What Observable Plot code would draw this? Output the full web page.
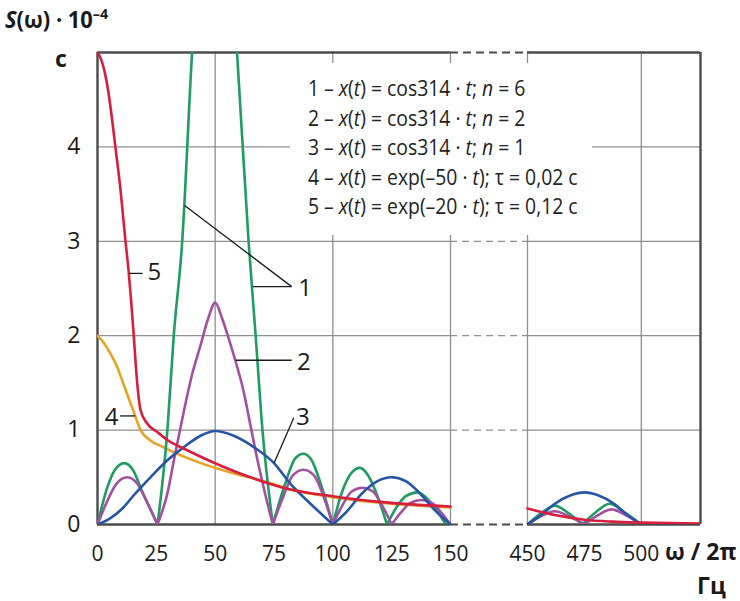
<!DOCTYPE html>
<html>
<head>
<meta charset="utf-8">
<script src="https://cdn.jsdelivr.net/npm/d3@7"></script>
<script src="https://cdn.jsdelivr.net/npm/@observablehq/plot@0.6"></script>
<style>
  body { margin: 0; background: #fff; }
  #wrap { position: relative; width: 740px; height: 601px; overflow: hidden;
          font-family: "Open Sans", "Liberation Sans", sans-serif; color: #1a1a1a; }
  #chart { position: absolute; left: 0; top: 0; }
  .lab { position: absolute; font-weight: bold; font-size: 23px; white-space: nowrap; line-height: 1; transform-origin: 0 0; }
  .lab sup { font-size: 15px; vertical-align: 9px; }
  #legend { position: absolute; left: 290px; top: 63px; width: 302px; height: 172px; background: #fff; }
  #legend div { position: absolute; left: 18px; font-size: 22px; white-space: nowrap; line-height: 1; color: #222;
                transform-origin: 0 0; transform: scaleX(0.88); }
</style>
</head>
<body>
<div id="wrap">
  <div id="chart"></div>
  <div class="lab" style="left:5px;top:6px;transform:scaleX(0.95);"><i>S</i>(ω) · 10<sup>–4</sup></div>
  <div class="lab" style="left:55px;top:47px;">c</div>
  <div class="lab" style="left:665px;top:540px;">ω / 2π</div>
  <div class="lab" style="left:697px;top:574px;">Гц</div>
  <div id="legend"></div>
</div>
<script>
// ---- data ----
const xTicks = [0, 25, 50, 75, 100, 125, 150, 450, 475, 500];
const yTicks = [0, 1, 2, 3, 4];
const xGrid = [50, 100, 150, 450, 500];
const yGrid = [1, 2, 3, 4];

// curve 5: exp(-20t)
const f5 = [0, 1.5, 3, 4.5, 6, 7.6, 9.8, 11.9, 13.2, 14.3, 15.4, 16.9, 18.3, 21.1, 25.4, 30, 37, 49, 65, 82, 100, 120, 150,
            450, 462, 475, 487, 500, 512, 526];
const s5 = [5.0, 4.93, 4.8, 4.6, 4.33, 4.0, 3.54, 3.0, 2.69, 2.37, 2.0, 1.49, 1.21, 1.07, 0.98, 0.89, 0.8, 0.66, 0.5, 0.37, 0.3, 0.24, 0.19,
            0.17, 0.1, 0.05, 0.03, 0.02, 0.015, 0.01];
// curve 4: exp(-50t)
const f4 = [0, 2.5, 5.5, 8.5, 11, 13.2, 15.3, 18.3, 22.5, 27, 32, 44, 58, 72, 82, 100, 120, 150];
const s4 = [2.0, 1.93, 1.81, 1.66, 1.49, 1.34, 1.2, 1.0, 0.89, 0.83, 0.77, 0.65, 0.54, 0.45, 0.37, 0.29, 0.23, 0.18];
// curve 3: cos314t, n = 1
const f3 = [0, 5, 11, 15.4, 22.5, 29.7, 36.7, 43.8, 50, 57.9, 66.4, 75, 82, 90.5, 100,
            106, 112, 119, 125, 131, 137, 143, 150,
            450, 456, 462, 469, 475, 481, 488, 494, 500];
const s3 = [0, 0.06, 0.18, 0.31, 0.5, 0.68, 0.82, 0.94, 0.99, 0.94, 0.82, 0.65, 0.43, 0.22, 0,
            0.14, 0.32, 0.46, 0.5, 0.46, 0.33, 0.16, 0,
            0, 0.1, 0.22, 0.31, 0.34, 0.31, 0.22, 0.1, 0];
// curve 2: cos314t, n = 2
const f2 = [0, 4, 8, 12.6, 17, 21, 25.5,
            29.7, 33, 36.7, 40, 43.8, 47, 50, 53, 56, 59, 62, 65, 68, 71, 74.5,
            79, 83, 87.5, 92, 96, 100,
            104, 108, 112.5, 117, 121, 125,
            129, 133, 137.5, 142, 146, 150,
            450, 456, 462, 468, 475, 481, 487, 493, 500];
const s2 = [0, 0.24, 0.43, 0.5, 0.43, 0.24, 0,
            0.33, 0.75, 1.2, 1.57, 1.9, 2.18, 2.35, 2.18, 1.95, 1.7, 1.42, 1.05, 0.68, 0.35, 0,
            0.3, 0.52, 0.58, 0.52, 0.3, 0,
            0.2, 0.35, 0.39, 0.35, 0.2, 0,
            0.13, 0.23, 0.26, 0.23, 0.13, 0,
            0, 0.09, 0.14, 0.09, 0, 0.1, 0.16, 0.1, 0];
// curve 1: cos314t, n = 6
const f1 = [0, 4, 8, 11.5, 15, 19, 25.5,
            29.7, 32.4, 36, 40.2, 44, 50, 56, 59.3, 64.2, 67.2, 70.1, 74.5,
            80, 84, 87.5, 91, 95, 100,
            104, 108, 111.5, 115, 119, 123,
            127, 131, 136, 141, 145, 148,
            450, 456, 462, 468, 474, 480, 486, 493, 500];
const s1 = [0, 0.38, 0.6, 0.65, 0.58, 0.35, 0,
            1, 2, 3, 5, 6.3, 7, 6.3, 5, 3, 2, 1, 0,
            0.45, 0.7, 0.75, 0.68, 0.42, 0,
            0.35, 0.55, 0.6, 0.52, 0.3, 0,
            0.18, 0.3, 0.34, 0.25, 0.12, 0,
            0, 0.12, 0.2, 0.12, 0, 0.13, 0.22, 0.12, 0];

const seriesNames = ["4", "1", "2", "3", "5"];
const seriesColors = ["#e7a224", "#1f9c62", "#a3509f", "#2556a5", "#d61f3d"];
const seriesF = [f4, f1, f2, f3, f5];
const seriesS = [s4, s1, s2, s3, s5];

const legendLines = [
  "1 – <i>x</i>(<i>t</i>) = cos314 · <i>t</i>; <i>n</i> = 6",
  "2 – <i>x</i>(<i>t</i>) = cos314 · <i>t</i>; <i>n</i> = 2",
  "3 – <i>x</i>(<i>t</i>) = cos314 · <i>t</i>; <i>n</i> = 1",
  "4 – <i>x</i>(<i>t</i>) = exp(–50 · <i>t</i>); τ = 0,02 c",
  "5 – <i>x</i>(<i>t</i>) = exp(–20 · <i>t</i>); τ = 0,12 c"
];

// callouts (data coordinates)
const leaderX1 = [37, 65.9, 58.8, 75, 16, 13.6];
const leaderY1 = [3.38, 2.52, 1.74, 0.65, 1.15, 2.66];
const leaderX2 = [82.5, 82.5, 82.5, 83.4, 9.6, 19.2];
const leaderY2 = [2.52, 2.52, 1.74, 1.13, 1.15, 2.66];
const calloutText = ["1", "2", "3", "4", "5"];
const calloutX = [85.3, 84.8, 84.3, 8.9, 21.2];
const calloutY = [2.5, 1.72, 1.14, 1.14, 2.67];
const calloutAnchor = ["start", "start", "start", "end", "start"];

// ---- build rows, splitting into lobes at zeros and at the axis break ----
const rows = [];
seriesNames.forEach((name, si) => {
  const F = seriesF[si], S = seriesS[si];
  let lobe = 0, count = 0;
  for (let i = 0; i < F.length; i++) {
    if (i > 0 && F[i - 1] <= 150 && F[i] >= 450) { lobe++; count = 0; }
    rows.push({name, f: F[i], s: S[i], key: name + "-" + lobe, color: seriesColors[si]});
    count++;
    if (S[i] === 0 && count > 1 && i < F.length - 1 && !(F[i] <= 150 && F[i + 1] >= 450)) {
      lobe++; count = 1;
      rows.push({name, f: F[i], s: S[i], key: name + "-" + lobe, color: seriesColors[si]});
    }
  }
});

const leaders = leaderX1.map((x, i) => ({x1: x, y1: leaderY1[i], x2: leaderX2[i], y2: leaderY2[i]}));
const callouts = calloutText.map((t, i) => ({t, x: calloutX[i], y: calloutY[i], a: calloutAnchor[i]}));

const gridStroke = "#8f8f8f";
const frameStroke = "#4b4b4b";

const chart = Plot.plot({
  width: 740,
  height: 601,
  marginLeft: 97,
  marginRight: 40,
  marginTop: 52,
  marginBottom: 77,
  style: {fontFamily: '"Open Sans", "Liberation Sans", sans-serif', background: "#fff", color: "#1a1a1a"},
  x: {type: "linear", domain: [0, 150, 450, 526], range: [97, 450, 527, 700]},
  y: {type: "linear", domain: [0, 5]},
  marks: [
    // grid
    Plot.ruleX(xGrid, {y1: 0, y2: 5, stroke: gridStroke, strokeWidth: 1.3}),
    Plot.ruleY(yGrid, {x1: 0, x2: 150, stroke: gridStroke, strokeWidth: 1.3}),
    Plot.ruleY(yGrid, {x1: 450, x2: 526, stroke: gridStroke, strokeWidth: 1.3}),
    Plot.ruleY(yGrid, {x1: 150, x2: 450, stroke: gridStroke, strokeWidth: 1.3, strokeDasharray: "7,5"}),
    // frame
    Plot.ruleY([0, 5], {x1: 0, x2: 150, stroke: frameStroke, strokeWidth: 2.4}),
    Plot.ruleY([0, 5], {x1: 450, x2: 526, stroke: frameStroke, strokeWidth: 2.4}),
    Plot.ruleY([0, 5], {x1: 150, x2: 450, stroke: frameStroke, strokeWidth: 2.2, strokeDasharray: "8,5"}),
    Plot.ruleX([0, 526], {y1: 0, y2: 5, stroke: frameStroke, strokeWidth: 2.4}),
    // curves
    Plot.line(rows, {x: "f", y: "s", z: "key", stroke: "color", strokeWidth: 2.6, curve: "monotone-x", clip: "frame"}),
    // callouts
    Plot.link(leaders, {x1: "x1", y1: "y1", x2: "x2", y2: "y2", stroke: "#1a1a1a", strokeWidth: 1.3}),
    Plot.text(callouts, {x: "x", y: "y", text: "t", textAnchor: "start", filter: d => d.a === "start", fontSize: 24, fill: "#1a1a1a"}),
    Plot.text(callouts, {x: "x", y: "y", text: "t", textAnchor: "end", filter: d => d.a === "end", fontSize: 24, fill: "#1a1a1a"}),
    // axes
    Plot.axisX(xTicks, {tickSize: 0, tickPadding: 22, fontSize: 21, label: null, tickFormat: d => String(d)}),
    Plot.axisY(yTicks, {tickSize: 0, tickPadding: 17, fontSize: 23, label: null, tickFormat: d => String(d)})
  ]
});
document.getElementById("chart").appendChild(chart);

const legend = document.getElementById("legend");
legendLines.forEach((html, i) => {
  const d = document.createElement("div");
  d.innerHTML = html;
  d.style.top = (13 + i * 29.6) + "px";
  legend.appendChild(d);
});
</script>
</body>
</html>
